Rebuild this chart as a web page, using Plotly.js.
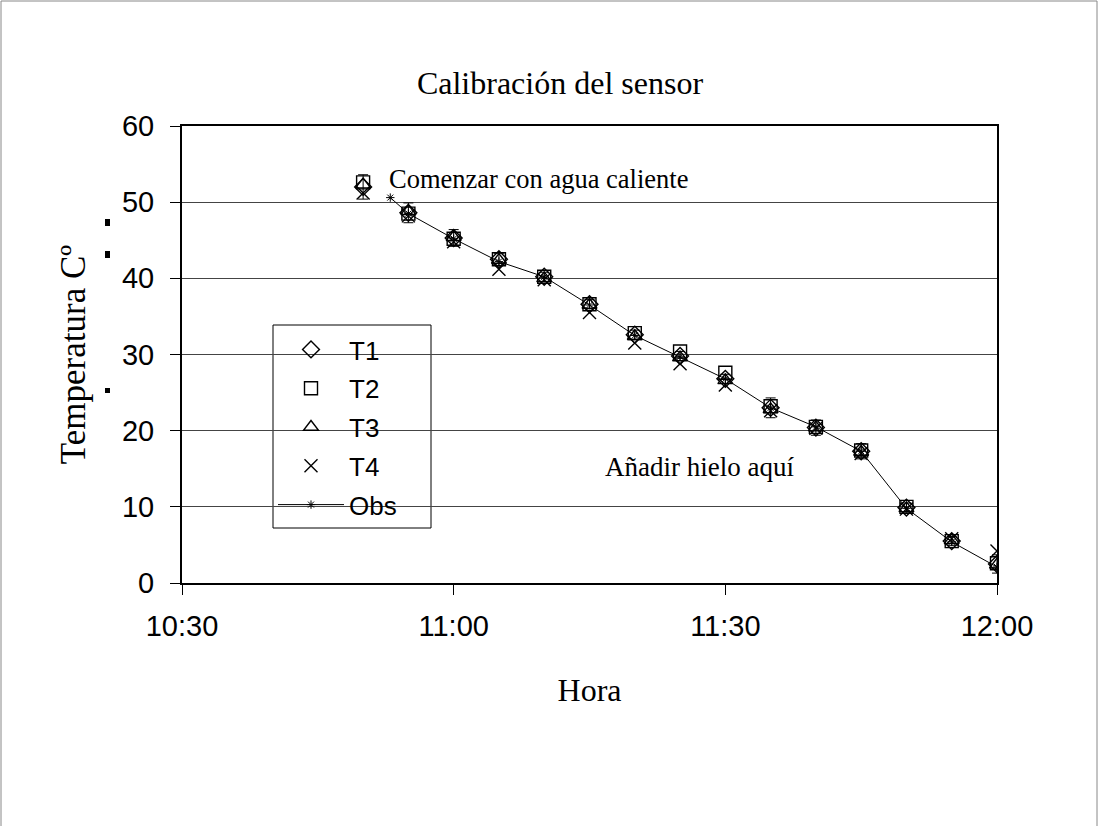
<!DOCTYPE html>
<html><head><meta charset="utf-8">
<script src="https://cdn.plot.ly/plotly-3.0.1.min.js"></script>
<style>html,body{margin:0;padding:0;background:#fff}#c{width:1099px;height:826px}</style>
</head><body><div id="c"></div>
<script>
const day = '2000-01-01 ';
const times = ['10:50','10:55','11:00','11:05','11:10','11:15','11:20','11:25','11:30','11:35','11:40','11:45','11:50','11:55','12:00'];
const T1 = [52.0, 48.6, 45.3, 42.5, 40.2, 36.6, 32.6, 29.8, 26.8, 23.0, 20.4, 17.3, 9.9, 5.5, 2.5];
const T1Err = [1.6, 1.3, 1.1, 0.8, 0.6, 0.6, 0.6, 0.6, 0.6, 1.3, 1.0, 1.0, 0.6, 0.6, 1.2];
const T2 = [52.6, 48.5, 45.2, 42.5, 40.2, 36.6, 32.8, 30.4, 27.6, 23.2, 20.5, 17.4, 10.0, 5.5, 2.6];
const T3 = [52.3, 48.8, 45.4, 42.4, 40.0, 36.5, 32.4, 29.6, 26.6, 22.8, 20.4, 17.2, 9.8, 5.6, 2.4];
const T4 = [51.2, 48.2, 44.8, 41.2, 39.8, 35.5, 31.5, 28.8, 26.0, 22.6, 20.3, 17.0, 9.7, 5.8, 4.2];
const obsTimes = ['10:53','10:55','11:00','11:05','11:10','11:15','11:20','11:25','11:30','11:35','11:40','11:45','11:50','11:55','12:00'];
const Obs = [50.6, 48.5, 45.2, 42.2, 40.2, 36.5, 32.5, 29.7, 26.8, 23.0, 20.5, 17.3, 9.8, 5.4, 2.1];
const xTickLabels = ['10:30','11:00','11:30','12:00'];

const tx = times.map(t => day + t);
const sans = 'Liberation Sans, Arial, sans-serif';
const serif = 'Liberation Serif, Times New Roman, serif';

function mk(name, y, sym, size){
  return {x: tx, y: y, name: name, type:'scatter', mode:'markers', legendgroup:name,
    marker:{symbol:sym, size:size, color:'#000', line:{color:'#000', width:1.4}}};
}
const t1 = mk('T1', T1, 'diamond-open', 13);
t1.error_y = {type:'data', array:T1Err, visible:true, color:'#000', thickness:1, width:5};
const traces = [
  t1,
  mk('T2', T2, 'square-open', 13),
  mk('T3', T3, 'triangle-up-open', 13),
  mk('T4', T4, 'x-thin-open', 13),
  {x: obsTimes.map(t => day + t), y: Obs, name:'Obs', type:'scatter', mode:'lines+markers', legendgroup:'Obs',
   line:{color:'#000', width:1},
   marker:{symbol:'asterisk-open', size:7, color:'#000', line:{color:'#000', width:1}}}
];

const px = v => (v - 182) / 815;
const py = v => (583 - v) / 457;

const layout = {
  width:1099, height:826,
  margin:{l:182, r:102, t:126, b:243},
  paper_bgcolor:'#fff', plot_bgcolor:'#fff',
  showlegend:true,
  title:{text:'Calibración del sensor', font:{family:serif, size:32, color:'#000'}, x:560/1099, xanchor:'center', y:1-83/826, yanchor:'middle'},
  xaxis:{type:'date', range:[day+'10:30', day+'12:00'],
    tickvals: xTickLabels.map(t => day + t), ticktext: xTickLabels,
    ticks:'outside', ticklen:10, tickwidth:1, tickcolor:'#000', ticklabelstandoff:6,
    showgrid:false, zeroline:false, showline:true, linecolor:'#000', linewidth:2, mirror:true,
    tickfont:{family:sans, size:29, color:'#000'},
    title:{text:'Hora', font:{family:serif, size:32, color:'#000'}, standoff:38}},
  yaxis:{range:[0,60], dtick:10, tick0:0,
    ticks:'outside', ticklen:10, tickwidth:1, tickcolor:'#000', ticklabelstandoff:10,
    showgrid:true, gridcolor:'#444', gridwidth:1.3, zeroline:false,
    showline:true, linecolor:'#000', linewidth:2, mirror:true,
    tickfont:{family:sans, size:29, color:'#000'},
    title:{text:'Temperatura Cº', font:{family:serif, size:35, color:'#000'}, standoff:26}},
  legend:{x:px(273), y:py(326), xanchor:'left', yanchor:'top', bgcolor:'rgba(0,0,0,0)', borderwidth:0,
    font:{family:sans, size:26, color:'#000'}, tracegroupgap:2, traceorder:'grouped', itemwidth:66},
  annotations:[
    {x:day+'10:52:40', y:53.0, xref:'x', yref:'y', text:'Comenzar con agua caliente', showarrow:false, xanchor:'left', yanchor:'middle',
     font:{family:serif, size:26.5, color:'#000'}},
    {x:day+'11:16:30', y:15.2, xref:'x', yref:'y', text:'Añadir hielo aquí', showarrow:false, xanchor:'left', yanchor:'middle',
     font:{family:serif, size:27, color:'#000'}}
  ],
  shapes:[
    {type:'rect', xref:'paper', yref:'paper', layer:'between', x0:px(273), x1:px(431), y0:py(528), y1:py(325),
     line:{color:'#000', width:1}, fillcolor:'#fff'},
    {type:'rect', xref:'paper', yref:'paper', x0:px(1), x1:px(1097), y0:py(830), y1:py(1),
     line:{color:'#888', width:1}, fillcolor:'rgba(0,0,0,0)'},
    {type:'rect', xref:'paper', yref:'paper', x0:px(105), x1:px(110), y0:py(226), y1:py(219), line:{width:0}, fillcolor:'#000'},
    {type:'rect', xref:'paper', yref:'paper', x0:px(105), x1:px(110), y0:py(258), y1:py(251), line:{width:0}, fillcolor:'#000'},
    {type:'rect', xref:'paper', yref:'paper', x0:px(105), x1:px(110), y0:py(393), y1:py(388), line:{width:0}, fillcolor:'#000'}
  ]
};
Plotly.newPlot('c', traces, layout, {staticPlot:true, displayModeBar:false});
</script></body></html>
